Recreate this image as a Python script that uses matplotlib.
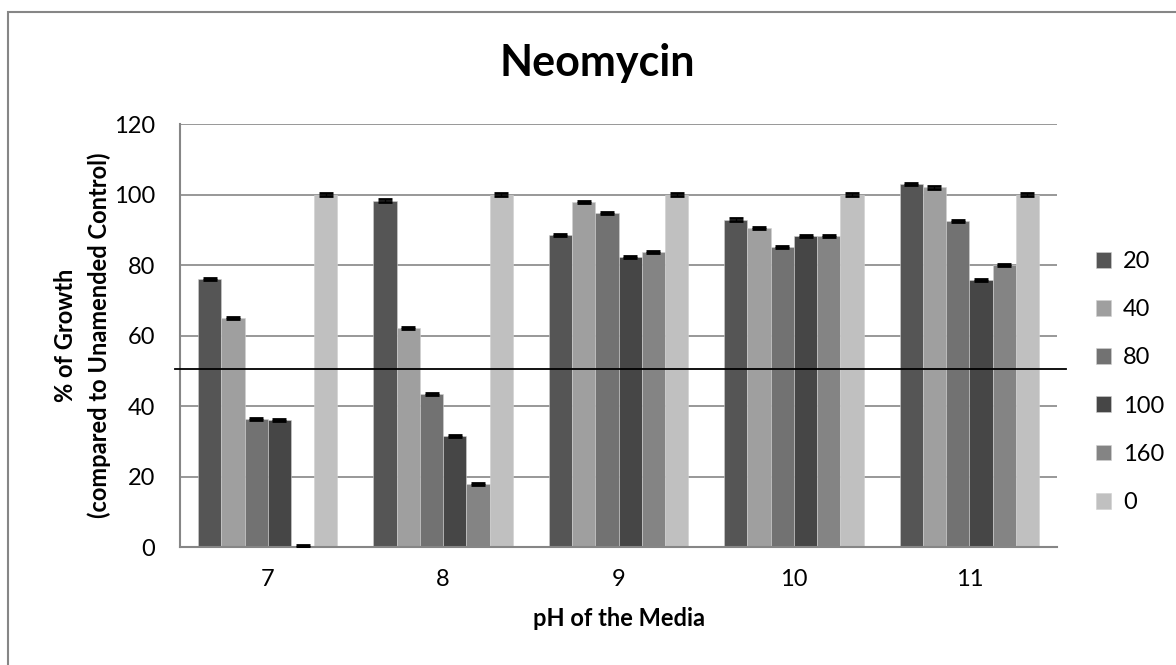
import matplotlib.pyplot as plt
import matplotlib.patches as mpatches
import numpy as np

plt.rcParams['font.family'] = ['Lato', 'DejaVu Sans']

# Data
ph_levels = ['7', '8', '9', '10', '11']
doses = ['20', '40', '80', '100', '160', '0']
values = {
    '20':  [76.1, 98.3, 88.6, 92.9, 103.0],
    '40':  [65.0, 62.2, 97.8, 90.4, 102.0],
    '80':  [36.3, 43.3, 94.8, 85.0, 92.4],
    '100': [36.0, 31.4, 82.2, 88.3, 75.8],
    '160': [0.3, 17.8, 83.7, 88.3, 80.1],
    '0':   [100, 100, 100, 100, 100],
}
errors = [0.3, 0.3, 0.3, 0.3, 0.3]
threshold = 50.6

colors = ['#555555', '#9f9f9f', '#727272', '#464646', '#848484', '#c0c0c0']

fig = plt.figure(figsize=(11.76, 6.65), dpi=100)
# outer chart border
fig.patches.append(mpatches.Rectangle((8 / 1176, -0.01), 1.02, 1 - 12 / 665 + 0.01,
                                      transform=fig.transFigure, fill=False,
                                      edgecolor='#868686', linewidth=1.5))
ax = fig.add_axes([0.1531, 0.1774, 0.7457, 0.6361])

x = np.arange(len(ph_levels))
w = 0.1325
for i, d in enumerate(doses):
    pos = x + (i - 2.5) * w
    ax.bar(pos, values[d], width=w, color=colors[i], edgecolor='#d0d0d0',
           linewidth=0.4, label=d, zorder=2)
    ax.errorbar(pos, values[d], yerr=errors, fmt='none', ecolor='black',
                elinewidth=1, capsize=5, capthick=2, zorder=3)

ax.axhline(threshold, xmin=-0.006, xmax=1.01, color='black', linewidth=1.3,
           clip_on=False, zorder=4)

ax.set_xlim(-0.5, 4.5)
ax.set_ylim(0, 120)
ax.set_yticks(range(0, 121, 20))
ax.set_xticks(x)
ax.set_xticklabels(ph_levels)
ax.tick_params(length=0, labelsize=17)
ax.tick_params(axis='y', pad=18)
ax.tick_params(axis='x', pad=16)
ax.grid(axis='y', color='#868686', linewidth=1.2, zorder=0)
ax.set_axisbelow(True)
for s in ['top', 'right']:
    ax.spines[s].set_visible(False)
for s in ['left', 'bottom']:
    ax.spines[s].set_color('#868686')
    ax.spines[s].set_linewidth(1.5)

fig.text(597 / 1176, 1 - 63 / 665, 'Neomycin', fontsize=31, fontweight='bold',
         ha='center', va='center')
ax.set_xlabel('pH of the Media', fontsize=17, fontweight='bold', labelpad=12)
ax.set_ylabel('% of Growth\n(compared to Unamended Control)', fontsize=17,
              fontweight='bold', labelpad=2, linespacing=1.55)

ax.legend(loc='center left', bbox_to_anchor=(1.02, 0.39), frameon=False,
          fontsize=17, handlelength=0.65, handleheight=0.65, handletextpad=0.5,
          labelspacing=1.15)

fig.savefig('out.png', dpi=100)
